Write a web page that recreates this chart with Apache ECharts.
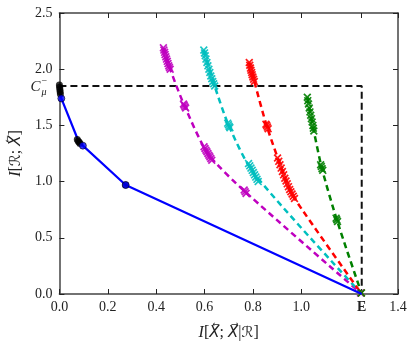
<!DOCTYPE html>
<html>
<head>
<meta charset="utf-8">
<script src="https://cdn.jsdelivr.net/npm/echarts@6/dist/echarts.min.js"></script>
<style>html,body{margin:0;padding:0;background:#fff}#c{width:415px;height:347px}</style>
</head>
<body>
<div id="c"></div>
<script>
// ---- data ----
const Cmu = 1.85;      // C_mu^- level
const Eval = 1.25;     // E on the x axis
const xTickValues = [0, 0.2, 0.4, 0.6, 0.8, 1.0, 1.25, 1.4];
const xTickLabels = ['0.0', '0.2', '0.4', '0.6', '0.8', '1.0', 'E', '1.4'];
const yTickLabels = ['0.0', '0.5', '1.0', '1.5', '2.0', '2.5'];

const blueCurve = [[0, 1.85], [0.008, 1.74], [0.077, 1.37], [0.097, 1.32], [0.274, 0.97], [1.25, 0]];
const blueDots = [[0.008, 1.74], [0.097, 1.32], [0.274, 0.97]];
const blackDots = [[0.0, 1.86], [0.001, 1.84], [0.002, 1.82], [0.003, 1.80], [0.004, 1.78],
  [0.074, 1.375], [0.078, 1.36], [0.082, 1.35], [0.085, 1.34], [0.274, 0.97]];
const boundary = [[0, 1.85], [1.25, 1.85], [1.25, 0]];

const magentaLine = [[0.430, 2.19], [0.458, 2.00], [0.518, 1.67], [0.614, 1.25], [0.768, 0.91], [1.25, 0]];
const cyanLine = [[0.597, 2.17], [0.642, 1.85], [0.700, 1.50], [0.802, 1.08], [1.25, 0]];
const redLine = [[0.785, 2.06], [0.806, 1.89], [0.858, 1.49], [0.937, 1.01], [0.972, 0.85], [1.25, 0]];
const greenLine = [[1.025, 1.75], [1.052, 1.45], [1.085, 1.12], [1.147, 0.66], [1.25, 0]];

const magentaMarks = [[0.430, 2.19], [0.432, 2.17], [0.435, 2.15], [0.437, 2.13], [0.440, 2.11], [0.443, 2.09],
  [0.446, 2.07], [0.449, 2.05], [0.452, 2.03], [0.455, 2.015], [0.458, 2.00],
  [0.513, 1.69], [0.516, 1.68], [0.519, 1.665], [0.522, 1.655],
  [0.598, 1.31], [0.602, 1.295], [0.606, 1.28], [0.610, 1.265], [0.614, 1.25], [0.618, 1.235],
  [0.622, 1.22], [0.626, 1.205], [0.630, 1.19],
  [0.764, 0.925], [0.768, 0.91], [0.772, 0.895], [1.245, 0.01]];
const cyanMarks = [[0.597, 2.17], [0.600, 2.145], [0.603, 2.12], [0.606, 2.09], [0.610, 2.06], [0.614, 2.03],
  [0.618, 2.00], [0.622, 1.97], [0.626, 1.94], [0.630, 1.915], [0.634, 1.89], [0.638, 1.87], [0.642, 1.85],
  [0.696, 1.52], [0.699, 1.505], [0.702, 1.49], [0.705, 1.48],
  [0.782, 1.16], [0.787, 1.14], [0.792, 1.12], [0.797, 1.10], [0.802, 1.08], [0.807, 1.06],
  [0.812, 1.04], [0.817, 1.02], [0.822, 1.00], [1.247, 0.01]];
const redMarks = [[0.785, 2.06], [0.787, 2.035], [0.790, 2.01], [0.792, 1.99], [0.795, 1.97], [0.797, 1.95],
  [0.800, 1.93], [0.803, 1.91], [0.806, 1.89],
  [0.854, 1.51], [0.857, 1.50], [0.860, 1.485], [0.863, 1.47],
  [0.902, 1.21], [0.907, 1.18], [0.912, 1.15], [0.917, 1.12], [0.922, 1.09], [0.927, 1.06], [0.932, 1.03],
  [0.937, 1.005], [0.942, 0.98], [0.947, 0.955], [0.952, 0.93], [0.957, 0.91], [0.962, 0.89], [0.967, 0.87],
  [0.972, 0.85], [1.248, 0.01]];
const greenMarks = [[1.025, 1.75], [1.027, 1.72], [1.030, 1.69], [1.033, 1.655], [1.036, 1.62], [1.039, 1.59],
  [1.042, 1.56], [1.045, 1.53], [1.048, 1.50], [1.050, 1.475], [1.052, 1.45],
  [1.080, 1.15], [1.083, 1.135], [1.086, 1.115], [1.089, 1.10],
  [1.144, 0.675], [1.147, 0.66], [1.150, 0.645], [1.249, 0.01]];

// ---- chart ----
const FONT = '"Liberation Serif", "DejaVu Serif", serif';
const SYMFONT = '"DejaVu Sans", "DejaVu Serif", serif';
const XSYM = 'path://M0,1.5L1.5,0L5,3.5L8.5,0L10,1.5L6.5,5L10,8.5L8.5,10L5,6.5L1.5,10L0,8.5L3.5,5Z';
const chart = echarts.init(document.getElementById('c'), null, {renderer: 'canvas'});

function dashed(data, color) {
  return {type: 'line', data: data, symbol: 'none', smooth: 0.25, z: 3,
    lineStyle: {color: color, width: 2.5, type: [6, 4]}};
}
function marks(data, color) {
  return {type: 'scatter', data: data, symbol: XSYM, symbolSize: 8, z: 4,
    itemStyle: {color: color, opacity: 0.9}};
}
const axisCommon = {
  min: 0, axisLine: {show: true, onZero: false, lineStyle: {color: '#444', width: 1.5}},
  axisTick: {show: true, inside: true, length: 5, lineStyle: {color: '#222', width: 1}},
  splitLine: {show: false}
};
const nameRich = {
  i: {fontStyle: 'italic', fontFamily: FONT, fontSize: 16, color: '#222'},
  x: {fontStyle: 'italic', fontFamily: SYMFONT, fontSize: 15, color: '#222'},
  r: {fontFamily: SYMFONT, fontSize: 15, color: '#222'}
};

chart.setOption({
  animation: false,
  grid: {left: 59, right: 17, top: 13, bottom: 53},
  xAxis: [
    Object.assign({}, axisCommon, {type: 'value', position: 'bottom', max: 1.4, interval: 0.2,
      axisTick: Object.assign({}, axisCommon.axisTick, {customValues: xTickValues}),
      axisLabel: {customValues: xTickValues, margin: 6, color: '#222', fontFamily: FONT, fontSize: 14,
        formatter: function (v) { const i = xTickValues.findIndex(t => Math.abs(t - v) < 1e-6);
          const s = i >= 0 ? xTickLabels[i] : ''; return s === 'E' ? '{b|E}' : s; },
        rich: {b: {fontWeight: 'bold', fontFamily: FONT, fontSize: 14, color: '#222'}}},
      name: '{i|I}[{x|X\u20D6}; {x|X\u20D7}|{r|\u211B}]', nameLocation: 'middle', nameGap: 31,
      nameTextStyle: {fontFamily: FONT, fontSize: 16, color: '#222', rich: nameRich}}),
    Object.assign({}, axisCommon, {type: 'value', position: 'top', max: 1.4, interval: 0.2,
      axisTick: Object.assign({}, axisCommon.axisTick, {customValues: xTickValues}),
      axisLabel: {show: false}})
  ],
  yAxis: [
    Object.assign({}, axisCommon, {type: 'value', position: 'left', max: 2.5, interval: 0.5,
      axisLabel: {margin: 7, color: '#222', fontFamily: FONT, fontSize: 14,
        formatter: function (v) { return yTickLabels[Math.round(v / 0.5)] || ''; }},
      name: '{i|I}[{r|\u211B}; {x|X\u20D6}]', nameLocation: 'middle', nameGap: 27, nameRotate: 90,
      nameTextStyle: {fontFamily: FONT, fontSize: 16, color: '#222', rich: nameRich}}),
    Object.assign({}, axisCommon, {type: 'value', position: 'right', max: 2.5, interval: 0.5,
      axisLabel: {show: false}})
  ],
  series: [
    {type: 'line', data: boundary, symbol: 'none', z: 2,
      lineStyle: {color: '#111', width: 2, type: [7, 4]}},
    dashed(magentaLine, '#bf00bf'),
    dashed(cyanLine, '#00bfbf'),
    dashed(redLine, '#ff0000'),
    dashed(greenLine, '#008000'),
    marks(magentaMarks, '#bf00bf'),
    marks(cyanMarks, '#00bfbf'),
    marks(redMarks, '#ff0000'),
    marks(greenMarks, '#008000'),
    {type: 'line', data: blueCurve, symbol: 'none', z: 5,
      lineStyle: {color: '#0000ff', width: 2.2}},
    {type: 'scatter', data: blackDots, symbol: 'circle', symbolSize: 7, z: 6,
      itemStyle: {color: '#000'}},
    {type: 'scatter', data: blueDots, symbol: 'circle', symbolSize: 7, z: 7,
      itemStyle: {color: '#0000ff', borderColor: '#000', borderWidth: 0.7}}
  ]
});

const p = chart.convertToPixel({xAxisIndex: 0, yAxisIndex: 0}, [0, Cmu]);
chart.setOption({
  graphic: [
    {type: 'text', x: p[0] - 19, y: p[1] + 1, style: {text: 'C', font: 'italic 15px ' + FONT, fill: '#222',
      textAlign: 'right', textVerticalAlign: 'middle'}},
    {type: 'text', x: p[0] - 18, y: p[1] + 6, style: {text: '\u03BC', font: 'italic 10px ' + FONT, fill: '#222',
      textAlign: 'left', textVerticalAlign: 'middle'}},
    {type: 'text', x: p[0] - 18, y: p[1] - 5, style: {text: '\u2212', font: '10px ' + FONT, fill: '#222',
      textAlign: 'left', textVerticalAlign: 'middle'}}
  ]
});
</script>
</body>
</html>
